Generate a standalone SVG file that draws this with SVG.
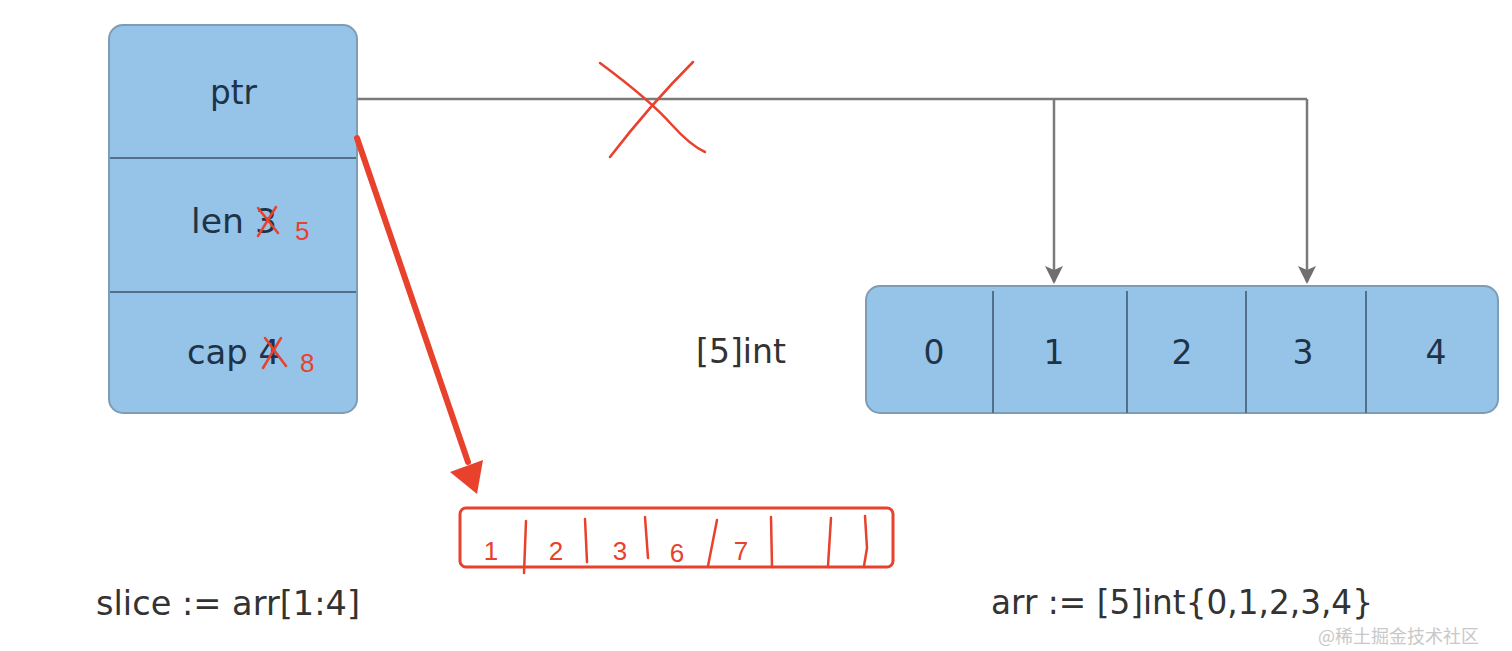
<svg xmlns="http://www.w3.org/2000/svg" width="1512" height="651" viewBox="0 0 1512 651">
<style>
.box{fill:#96c3e8;stroke:#7f9cb6;stroke-width:2}
.div{stroke:#53708a;stroke-width:2}
.lbl{font-family:"DejaVu Sans","Liberation Sans",sans-serif;font-size:33px;fill:#1f3347}
.code{font-family:"DejaVu Sans","Liberation Sans",sans-serif;font-size:33px;fill:#333}
.red{stroke:#e8412c;stroke-width:2.5;fill:none;stroke-linecap:round}
.redt{font-family:"Liberation Sans",Arial,sans-serif;font-size:26px;fill:#e8412c}
.conn{stroke:#7a7a7a;stroke-width:2.5;fill:none}
</style>
<defs>
<marker id="ah" markerWidth="18" markerHeight="18" refX="16" refY="9" orient="auto" markerUnits="userSpaceOnUse" viewBox="0 0 18 18">
<path d="M0,0 L18,9 L0,18 L4,9 Z" fill="#6f6f6f"/>
</marker>
</defs>
<rect width="1512" height="651" fill="#fff"/>
<g id="slice-header">
<rect class="box" x="109" y="25" width="248" height="388" rx="14"/>
<line class="div" x1="110" y1="158" x2="356" y2="158"/>
<line class="div" x1="110" y1="292" x2="356" y2="292"/>
<text class="lbl" x="210" y="104" textLength="47" lengthAdjust="spacingAndGlyphs">ptr</text>
<text class="lbl" x="191" y="233" textLength="86" lengthAdjust="spacingAndGlyphs">len 3</text>
<text class="lbl" x="187" y="364" textLength="93" lengthAdjust="spacingAndGlyphs">cap 4</text>
</g>
<g id="array">
<rect class="box" x="866" y="286" width="632" height="127" rx="14"/>
<line class="div" x1="993" y1="291" x2="993" y2="413"/>
<line class="div" x1="1127" y1="291" x2="1127" y2="413"/>
<line class="div" x1="1246" y1="291" x2="1246" y2="413"/>
<line class="div" x1="1366" y1="291" x2="1366" y2="413"/>
<text class="lbl" x="934" y="364" text-anchor="middle">0</text>
<text class="lbl" x="1054" y="364" text-anchor="middle">1</text>
<text class="lbl" x="1182" y="364" text-anchor="middle">2</text>
<text class="lbl" x="1303" y="364" text-anchor="middle">3</text>
<text class="lbl" x="1436" y="364" text-anchor="middle">4</text>
</g>
<g id="connectors">
<path class="conn" d="M357,99 H1307"/>
<path class="conn" d="M1054,99 V282" marker-end="url(#ah)"/>
<path class="conn" d="M1307,99 V282" marker-end="url(#ah)"/>
</g>
<text class="code" x="696" y="363" textLength="90" lengthAdjust="spacingAndGlyphs">[5]int</text>
<text class="code" x="96" y="615" textLength="264" lengthAdjust="spacingAndGlyphs">slice := arr[1:4]</text>
<text class="code" x="991" y="614" textLength="382" lengthAdjust="spacingAndGlyphs">arr := [5]int{0,1,2,3,4}</text>
<g id="annotations">
<path class="red" d="M600,63 Q650,100 672,125 Q690,145 705,152"/>
<path class="red" d="M693,62 Q650,105 610,157"/>
<path class="red" d="M258,208 L278,233"/>
<path class="red" d="M276,207 L258,236"/>
<text class="redt" x="295" y="240">5</text>
<path class="red" d="M265,338 L286,366"/>
<path class="red" d="M281,338 L263,368"/>
<text class="redt" x="300" y="372">8</text>
<path d="M357,138 L468,462" stroke="#e8412c" stroke-width="6" stroke-linecap="round"/>
<path d="M450,472 L483,460 L477,494 Z" fill="#e8412c"/>
<rect x="460" y="508" width="433" height="59" rx="6" fill="none" stroke="#e8412c" stroke-width="3"/>
<text class="redt" x="491" y="560" text-anchor="middle">1</text>
<text class="redt" x="556" y="560" text-anchor="middle">2</text>
<text class="redt" x="620" y="560" text-anchor="middle">3</text>
<text class="redt" x="677" y="562" text-anchor="middle">6</text>
<text class="redt" x="741" y="560" text-anchor="middle">7</text>
<path class="red" d="M526,521 L524,573"/>
<path class="red" d="M585,519 L587,562"/>
<path class="red" d="M645,517 L648,558"/>
<path class="red" d="M717,520 L708,566"/>
<path class="red" d="M771,517 L772,566"/>
<path class="red" d="M831,518 L828,566"/>
<path class="red" d="M865,516 L867,548 L864,566"/>
</g>
<text x="1318" y="643" style="font-family:'Noto Sans CJK SC',sans-serif;font-size:18px;fill:#c8c8c8">@稀土掘金技术社区</text>
</svg>
